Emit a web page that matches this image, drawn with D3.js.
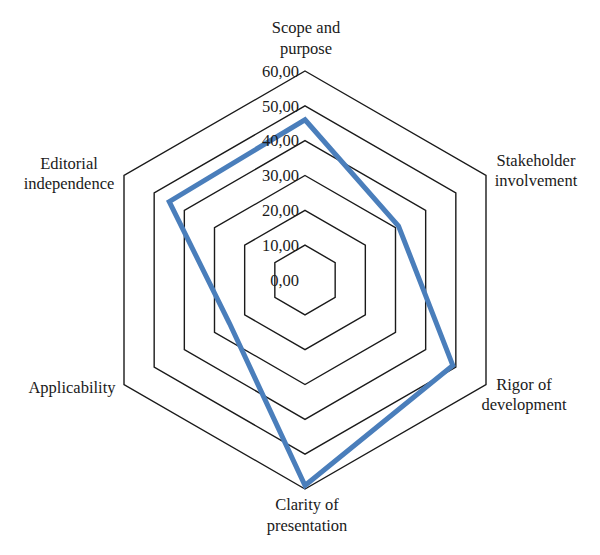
<!DOCTYPE html>
<html>
<head>
<meta charset="utf-8">
<script src="https://cdn.jsdelivr.net/npm/d3@7"></script>
<style>
  html, body { margin: 0; padding: 0; background: #fff; }
  svg { display: block; }
  text { font-family: "Liberation Serif", "DejaVu Serif", serif; fill: #1a1a1a; }
</style>
</head>
<body>
<svg id="chart" width="600" height="555"></svg>
<script>
// ---- data ----
const categories = [
  ["Scope and", "purpose"],
  ["Stakeholder", "involvement"],
  ["Rigor of", "development"],
  ["Clarity of", "presentation"],
  ["Applicability"],
  ["Editorial", "independence"]
];
const values = [46, 31, 49, 59, 25, 45];
const gridLevels = [10, 20, 30, 40, 50, 60];
const tickValues = [0, 10, 20, 30, 40, 50, 60];

// ---- layout ----
const width = 600, height = 555;
const cx = 305, cy = 280;
const svg = d3.select("#chart");
const r = d3.scaleLinear().domain([0, 60]).range([0, 209]);
const n = categories.length;
const angle = i => -Math.PI / 2 + i * 2 * Math.PI / n;
const pt = (i, v) => [cx + r(v) * Math.cos(angle(i)), cy + r(v) * Math.sin(angle(i))];

const g = svg.append("g");

// grid hexagons
const line = d3.line().curve(d3.curveLinearClosed);
g.selectAll("path.grid")
  .data(gridLevels)
  .join("path")
  .attr("class", "grid")
  .attr("d", lv => line(d3.range(n).map(i => pt(i, lv))))
  .attr("fill", "none")
  .attr("stroke", "#1a1a1a")
  .attr("stroke-width", 1.4);

// data polygon
g.append("path")
  .attr("d", line(values.map((v, i) => pt(i, v))))
  .attr("fill", "none")
  .attr("stroke", "#4a7ebb")
  .attr("stroke-width", 5)
  .attr("stroke-linejoin", "miter");

// tick labels along vertical axis
const fmt = v => d3.format(".2f")(v).replace(".", ",");
g.selectAll("text.tick")
  .data(tickValues)
  .join("text")
  .attr("class", "tick")
  .attr("x", cx - 6)
  .attr("y", v => cy - r(v))
  .attr("dy", "0.35em")
  .attr("text-anchor", "end")
  .attr("font-size", 16.5)
  .text(fmt);

// category labels: offsets (dx, dy of first baseline) from outer vertex
const labelOffsets = [
  [1, -38],
  [50, -10],
  [38, 5],
  [2, 21],
  [-52, 8],
  [-55, -7]
];
categories.forEach((lines, i) => {
  const [vx, vy] = pt(i, 60);
  const [ox, oy] = labelOffsets[i];
  const t = g.append("text")
    .attr("text-anchor", "middle")
    .attr("font-size", 16.5);
  lines.forEach((s, k) => {
    t.append("tspan")
      .attr("x", vx + ox)
      .attr("y", vy + oy + k * 20.5)
      .text(s);
  });
});
</script>
</body>
</html>
